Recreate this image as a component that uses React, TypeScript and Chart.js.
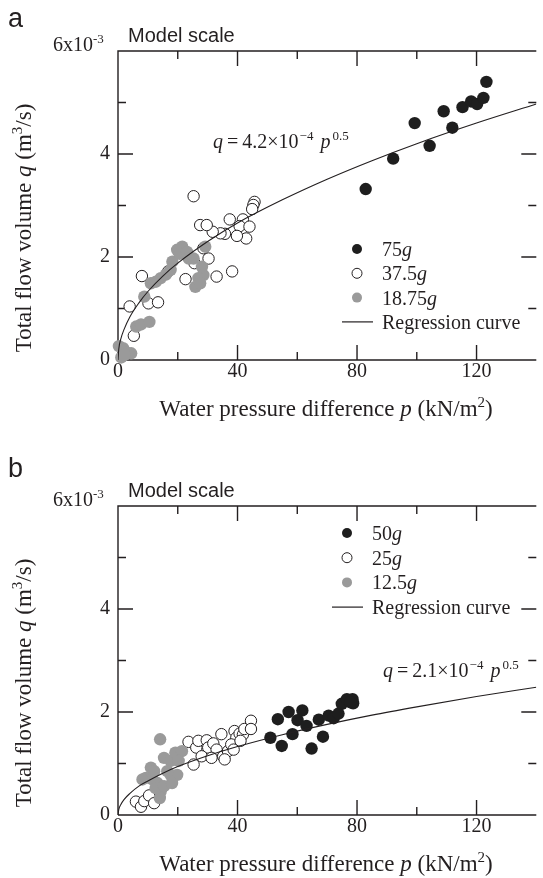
import React, { useEffect, useRef } from "react";
import { Chart, registerables } from "chart.js";

Chart.register(...registerables);

const SERIF = '"Liberation Serif", "Times New Roman", Times, serif';
const SANS = '"Liberation Sans", Arial, Helvetica, sans-serif';
const INK = "#231f20";
const BLACK = "#1e1e1e";
const GRAY = "#9a9a9a";

// ---------- Panel a (75g / 37.5g / 18.75g) ----------
const A_P_75 = [82.9, 92.1, 99.3, 104.3, 109.0, 111.9, 115.3, 118.2, 120.2, 122.3, 123.3];
const A_Q_75 = [3.32, 3.91, 4.6, 4.16, 4.83, 4.51, 4.91, 5.02, 4.97, 5.09, 5.4];

const A_P_375 = [25.3, 45.7, 45.3, 44.9, 37.4, 41.8, 40.7, 44.0, 42.9, 39.8, 35.8, 34.3, 31.7, 27.5, 29.7, 30.3, 28.6, 25.6, 22.6, 33.0, 38.2, 8.0, 3.9, 10.2, 13.4, 5.3, 16.8];
const A_Q_375 = [3.18, 3.07, 3.01, 2.93, 2.73, 2.73, 2.6, 2.59, 2.36, 2.41, 2.45, 2.46, 2.49, 2.62, 2.62, 1.97, 2.17, 1.88, 1.57, 1.62, 1.72, 1.63, 1.04, 1.1, 1.12, 0.47, 1.72];

const A_P_1875 = [0.3, 1.7, 3.0, 1.1, 4.4, 2.2, 6.1, 7.7, 10.5, 8.8, 11.0, 12.7, 14.3, 16.0, 17.6, 18.2, 19.8, 21.5, 20.6, 23.1, 23.7, 25.3, 29.2, 28.1, 28.6, 26.9, 25.9, 27.5];
const A_Q_1875 = [0.27, 0.23, 0.14, 0.05, 0.13, 0.1, 0.65, 0.69, 0.74, 1.23, 1.49, 1.52, 1.59, 1.66, 1.75, 1.91, 2.14, 2.2, 2.06, 2.1, 1.97, 1.97, 2.2, 1.81, 1.65, 1.59, 1.42, 1.49];

// regression curve q = 4.2x10^-4 p^0.5 (values in 10^-3 m3/s)
const A_CURVE_P = [0, 0.25, 1, 2, 4, 7, 10, 15, 20, 30, 40, 55, 70, 85, 100, 120, 140];
const A_CURVE_Q = [0, 0.21, 0.42, 0.59, 0.84, 1.11, 1.33, 1.63, 1.88, 2.3, 2.66, 3.11, 3.51, 3.87, 4.2, 4.6, 4.97];

// ---------- Panel b (50g / 25g / 12.5g) ----------
const B_P_50 = [51.0, 53.5, 54.8, 57.1, 58.4, 60.1, 61.7, 63.1, 64.8, 67.2, 68.6, 70.5, 72.2, 73.8, 74.9, 76.6, 78.5, 78.7, 77.7];
const B_Q_50 = [1.5, 1.86, 1.34, 2.0, 1.57, 1.84, 2.03, 1.73, 1.29, 1.85, 1.52, 1.93, 1.88, 1.97, 2.16, 2.25, 2.25, 2.17, 2.19];

const B_P_25 = [6.0, 7.7, 8.8, 10.4, 12.1, 23.6, 26.2, 26.9, 29.7, 30.2, 31.9, 33.0, 28.0, 31.3, 25.3, 34.6, 35.2, 36.8, 35.7, 39.0, 39.6, 40.7, 41.8, 42.3, 44.5, 44.5, 37.9, 38.7, 41.0];
const B_Q_25 = [0.26, 0.16, 0.27, 0.38, 0.23, 1.42, 1.31, 1.44, 1.45, 1.31, 1.39, 1.27, 1.14, 1.11, 0.98, 1.57, 1.14, 1.24, 1.08, 1.63, 1.5, 1.58, 1.56, 1.67, 1.83, 1.67, 1.37, 1.27, 1.44];

const B_P_125 = [14.1, 11.0, 9.3, 11.5, 13.2, 14.3, 14.0, 12.6, 15.4, 15.4, 17.6, 19.2, 21.4, 20.3, 17.6, 19.8, 16.5, 18.1, 12.1, 8.2];
const B_Q_125 = [1.47, 0.92, 0.72, 0.69, 0.62, 0.46, 0.33, 0.52, 0.56, 1.11, 1.05, 1.21, 1.24, 1.05, 0.78, 0.78, 0.85, 0.62, 0.85, 0.69];

// regression curve q = 2.1x10^-4 p^0.5
const B_CURVE_P = [0, 0.25, 1, 2, 4, 7, 10, 15, 20, 30, 40, 55, 70, 85, 100, 120, 140];
const B_CURVE_Q = [0, 0.105, 0.21, 0.3, 0.42, 0.56, 0.66, 0.81, 0.94, 1.15, 1.33, 1.56, 1.76, 1.94, 2.1, 2.3, 2.48];

// axis tick labels
const X_LABELS = [0, 40, 80, 120];
const Y_LABELS = [0, 2, 4];

type Run = { t: string; it?: boolean; sup?: boolean; gap?: number };

const zip = (ps: number[], qs: number[]) => ps.map((p, i) => ({ x: p, y: qs[i] }));

function runFont(r: Run, size: number) {
  const s = r.sup ? Math.round(size * 0.65) : size;
  return `${r.it ? "italic " : ""}${s}px ${SERIF}`;
}

function drawRuns(ctx: CanvasRenderingContext2D, x: number, y: number, runs: Run[], size: number, align: "left" | "center" = "left") {
  ctx.textAlign = "left";
  ctx.textBaseline = "alphabetic";
  const ws = runs.map((r) => {
    ctx.font = runFont(r, size);
    return ctx.measureText(r.t).width;
  });
  const total = runs.reduce((s, r, i) => s + (r.gap || 0) + ws[i], 0);
  let cx = align === "center" ? x - total / 2 : x;
  runs.forEach((r, i) => {
    cx += r.gap || 0;
    ctx.font = runFont(r, size);
    ctx.fillText(r.t, cx, y + (r.sup ? -size * 0.4 : 0));
    cx += ws[i];
  });
}

type LegendItem = { kind: "black" | "open" | "gray" | "line"; runs: Run[] };

type PanelSpec = {
  letter: string;
  letterY: number;
  height: number;
  black: { x: number; y: number }[];
  open: { x: number; y: number }[];
  gray: { x: number; y: number }[];
  curve: { x: number; y: number }[];
  legend: LegendItem[];
  legendMarkerX: number;
  legendY0: number;
  legendDy: number;
  eqRuns: Run[];
  eqX: number;
  eqY: number;
};

function decorPlugin(spec: PanelSpec) {
  return {
    id: "decor",
    beforeDatasetsDraw(chart: any) {
      const { ctx, chartArea: a, scales } = chart;
      const xs = scales.x;
      const ys = scales.y;
      ctx.save();
      ctx.strokeStyle = INK;
      ctx.lineWidth = 1.4;
      ctx.beginPath();
      ctx.moveTo(a.left, a.bottom);
      ctx.lineTo(a.left, a.top);
      ctx.lineTo(a.right, a.top);
      ctx.moveTo(a.left, a.bottom);
      ctx.lineTo(a.right, a.bottom);
      for (const t of xs.ticks) {
        const v = t.value;
        if (v <= xs.min || v >= xs.max) continue;
        const px = xs.getPixelForValue(v);
        const len = X_LABELS.includes(v) ? 15 : 8;
        ctx.moveTo(px, a.bottom);
        ctx.lineTo(px, a.bottom - len);
        ctx.moveTo(px, a.top);
        ctx.lineTo(px, a.top + len);
      }
      for (const t of ys.ticks) {
        const v = t.value;
        if (v >= ys.max) continue;
        const py = ys.getPixelForValue(v);
        const len = v % 2 === 0 ? 15 : 8;
        if (v > ys.min) {
          ctx.moveTo(a.left, py);
          ctx.lineTo(a.left + len, py);
        }
        ctx.moveTo(a.right, py);
        ctx.lineTo(a.right - len, py);
      }
      ctx.stroke();
      ctx.restore();
    },
    afterDatasetsDraw(chart: any) {
      const { ctx, chartArea: a } = chart;
      ctx.save();
      ctx.fillStyle = INK;
      // panel letter
      ctx.font = `27px ${SANS}`;
      ctx.textAlign = "left";
      ctx.textBaseline = "alphabetic";
      ctx.fillText(spec.letter, 8, spec.letterY);
      // Model scale
      ctx.font = `20px ${SANS}`;
      ctx.fillText("Model scale", 128, 42);
      // top y label 6x10^-3
      drawRuns(ctx, 53, a.top, [{ t: "6x10" }, { t: "-3", sup: true }], 20);
      // axis titles
      drawRuns(
        ctx,
        326,
        a.bottom + 56,
        [{ t: "Water pressure difference " }, { t: "p", it: true }, { t: " (kN/m" }, { t: "2", sup: true }, { t: ")" }],
        23,
        "center"
      );
      ctx.save();
      ctx.translate(31, 228);
      ctx.rotate(-Math.PI / 2);
      drawRuns(
        ctx,
        0,
        0,
        [{ t: "Total flow volume " }, { t: "q", it: true }, { t: " (m" }, { t: "3", sup: true }, { t: "/s)" }],
        23,
        "center"
      );
      ctx.restore();
      // equation
      drawRuns(ctx, spec.eqX, spec.eqY, spec.eqRuns, 20);
      // legend
      spec.legend.forEach((item, i) => {
        const y = spec.legendY0 + i * spec.legendDy;
        const mx = spec.legendMarkerX;
        if (item.kind === "line") {
          ctx.strokeStyle = INK;
          ctx.lineWidth = 1.2;
          ctx.beginPath();
          ctx.moveTo(mx - 15, y);
          ctx.lineTo(mx + 16, y);
          ctx.stroke();
        } else {
          ctx.beginPath();
          ctx.arc(mx, y, 5, 0, Math.PI * 2);
          if (item.kind === "open") {
            ctx.fillStyle = "#ffffff";
            ctx.fill();
            ctx.strokeStyle = INK;
            ctx.lineWidth = 1;
            ctx.stroke();
          } else {
            ctx.fillStyle = item.kind === "black" ? BLACK : GRAY;
            ctx.fill();
          }
        }
        ctx.fillStyle = INK;
        drawRuns(ctx, mx + 25, y + 7, item.runs, 20);
      });
      ctx.restore();
    },
  };
}

function makeConfig(spec: PanelSpec): any {
  return {
    type: "scatter",
    data: {
      datasets: [
        {
          type: "line",
          data: spec.curve,
          borderColor: INK,
          borderWidth: 1.1,
          pointRadius: 0,
          cubicInterpolationMode: "monotone",
          fill: false,
          order: 0,
        },
        {
          data: spec.black,
          backgroundColor: BLACK,
          borderColor: BLACK,
          borderWidth: 0,
          pointRadius: 6.2,
          order: 1,
          clip: false,
        },
        {
          data: spec.gray,
          backgroundColor: GRAY,
          borderColor: GRAY,
          borderWidth: 0,
          pointRadius: 6.2,
          order: 2,
          clip: false,
        },
        {
          data: spec.open,
          backgroundColor: "#ffffff",
          borderColor: INK,
          borderWidth: 1,
          pointRadius: 5.7,
          order: 3,
          clip: false,
        },
      ],
    },
    options: {
      animation: false,
      responsive: false,
      devicePixelRatio: 1,
      events: [],
      layout: { padding: { left: 0, top: 51, right: 0, bottom: 0 } },
      plugins: { legend: { display: false }, tooltip: { enabled: false }, title: { display: false } },
      scales: {
        x: {
          type: "linear",
          min: 0,
          max: 140,
          grid: { display: false, drawTicks: false },
          border: { display: false },
          ticks: {
            stepSize: 20,
            autoSkip: false,
            maxRotation: 0,
            padding: 0,
            color: INK,
            font: { family: SERIF, size: 20 },
            callback: (v: number) => (X_LABELS.includes(v) ? String(v) : ""),
          },
          afterFit: (s: any) => {
            s.height = spec.height - 360;
          },
        },
        y: {
          type: "linear",
          min: 0,
          max: 6,
          grid: { display: false, drawTicks: false },
          border: { display: false },
          ticks: {
            stepSize: 1,
            autoSkip: false,
            padding: 8,
            color: INK,
            font: { family: SERIF, size: 20 },
            callback: (v: number) => (Y_LABELS.includes(v) ? String(v) : ""),
          },
          afterFit: (s: any) => {
            s.width = 118;
          },
        },
      },
    },
    plugins: [decorPlugin(spec)],
  };
}

const PANEL_A: PanelSpec = {
  letter: "a",
  letterY: 27,
  height: 455,
  black: zip(A_P_75, A_Q_75),
  open: zip(A_P_375, A_Q_375),
  gray: zip(A_P_1875, A_Q_1875),
  curve: zip(A_CURVE_P, A_CURVE_Q),
  legend: [
    { kind: "black", runs: [{ t: "75" }, { t: "g", it: true }] },
    { kind: "open", runs: [{ t: "37.5" }, { t: "g", it: true }] },
    { kind: "gray", runs: [{ t: "18.75" }, { t: "g", it: true }] },
    { kind: "line", runs: [{ t: "Regression curve" }] },
  ],
  legendMarkerX: 357,
  legendY0: 249,
  legendDy: 24.3,
  eqRuns: [
    { t: "q", it: true },
    { t: "=", gap: 4 },
    { t: "4.2×10", gap: 4 },
    { t: "−4", sup: true, gap: 1 },
    { t: "p", it: true, gap: 7 },
    { t: "0.5", sup: true, gap: 2 },
  ],
  eqX: 213,
  eqY: 148,
};

const PANEL_B: PanelSpec = {
  letter: "b",
  letterY: 22,
  height: 423,
  black: zip(B_P_50, B_Q_50),
  open: zip(B_P_25, B_Q_25),
  gray: zip(B_P_125, B_Q_125),
  curve: zip(B_CURVE_P, B_CURVE_Q),
  legend: [
    { kind: "black", runs: [{ t: "50" }, { t: "g", it: true }] },
    { kind: "open", runs: [{ t: "25" }, { t: "g", it: true }] },
    { kind: "gray", runs: [{ t: "12.5" }, { t: "g", it: true }] },
    { kind: "line", runs: [{ t: "Regression curve" }] },
  ],
  legendMarkerX: 347,
  legendY0: 78,
  legendDy: 24.7,
  eqRuns: [
    { t: "q", it: true },
    { t: "=", gap: 4 },
    { t: "2.1×10", gap: 4 },
    { t: "−4", sup: true, gap: 1 },
    { t: "p", it: true, gap: 7 },
    { t: "0.5", sup: true, gap: 2 },
  ],
  eqX: 383,
  eqY: 222,
};

function Panel({ spec, top }: { spec: PanelSpec; top: number }) {
  const ref = useRef<HTMLCanvasElement | null>(null);
  useEffect(() => {
    if (!ref.current) return;
    const chart = new Chart(ref.current, makeConfig(spec));
    return () => chart.destroy();
  }, [spec]);
  return (
    <canvas
      ref={ref}
      width={543}
      height={spec.height}
      style={{ position: "absolute", left: 0, top, width: 543, height: spec.height, display: "block" }}
    />
  );
}

export default function App() {
  return (
    <div style={{ position: "absolute", left: 0, top: 0, width: 543, height: 878, background: "#ffffff", overflow: "hidden" }}>
      <Panel spec={PANEL_A} top={0} />
      <Panel spec={PANEL_B} top={455} />
    </div>
  );
}
